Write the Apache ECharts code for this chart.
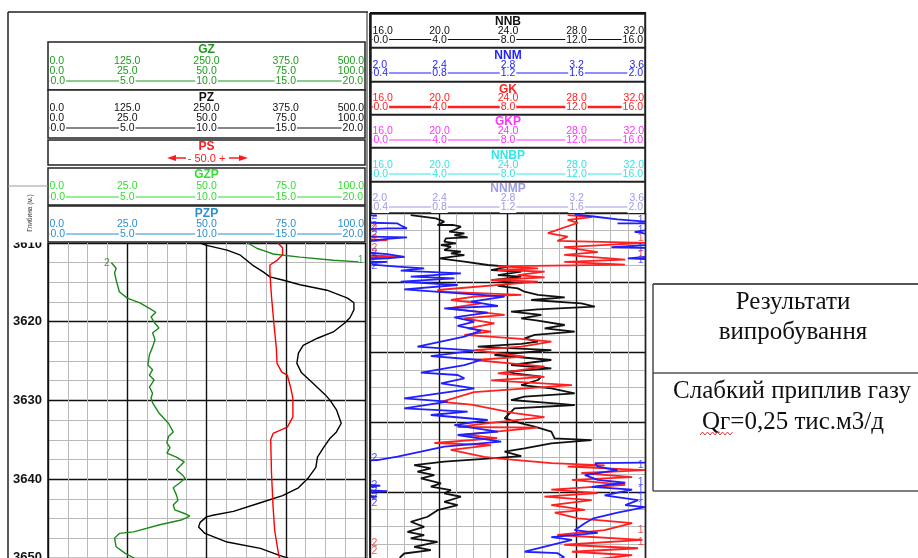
<!DOCTYPE html>
<html>
<head>
<meta charset="utf-8">
<script src="https://cdn.jsdelivr.net/npm/echarts/dist/echarts.min.js"></script>
<style>
  html, body { margin: 0; padding: 0; background: #fff; }
  #chart { width: 918px; height: 558px; }
</style>
</head>
<body>
<div id="chart"></div>
<script>
// ---------- scale captions of the header boxes ----------
const gzTicks   = [['0.0','125.0','250.0','375.0','500.0'], ['0.0','25.0','50.0','75.0','100.0'], ['0.0','5.0','10.0','15.0','20.0']];
const pzTicks   = [['0.0','125.0','250.0','375.0','500.0'], ['0.0','25.0','50.0','75.0','100.0'], ['0.0','5.0','10.0','15.0','20.0']];
const psCaption = '- 50.0 +';
const gzpTicks  = [['0.0','25.0','50.0','75.0','100.0'], ['0.0','5.0','10.0','15.0','20.0']];
const pzpTicks  = [['0.0','25.0','50.0','75.0','100.0'], ['0.0','5.0','10.0','15.0','20.0']];
const nnbTicks  = [['16.0','20.0','24.0','28.0','32.0'], ['0.0','4.0','8.0','12.0','16.0']];
const nnmTicks  = [['2.0','2.4','2.8','3.2','3.6'], ['0.4','0.8','1.2','1.6','2.0']];
const gkTicks   = [['16.0','20.0','24.0','28.0','32.0'], ['0.0','4.0','8.0','12.0','16.0']];
const gkpTicks  = [['16.0','20.0','24.0','28.0','32.0'], ['0.0','4.0','8.0','12.0','16.0']];
const nnbpTicks = [['16.0','20.0','24.0','28.0','32.0'], ['0.0','4.0','8.0','12.0','16.0']];
const nnmpTicks = [['2.0','2.4','2.8','3.2','3.6'], ['0.4','0.8','1.2','1.6','2.0']];

const depthTitle = 'Глибина (м.)';
const topDepth = 3610;
const resultTitle = ['Результати', 'випробування'];
const resultText  = ['Слабкий приплив газу', 'Qг=0,25 тис.м3/д'];

// ---------- left track curves: [value on 0..20 scale, depth m] ----------
const gzTop = [[12.6,3610.0],[13.2,3610.7],[13.8,3611.1],[14.2,3611.4],[15.9,3611.8],[18.0,3612.2],[19.6,3612.4]];
const gzMain = [[4.0,3612.5],[4.3,3613.2],[4.2,3613.8],[4.3,3614.7],[4.5,3616.2],[5.0,3617.0],[5.8,3617.6],[6.4,3618.3],
  [6.8,3618.8],[6.5,3619.4],[6.75,3620.2],[7.0,3620.8],[6.6,3621.4],[6.75,3622.3],[6.6,3623.2],[6.4,3624.2],[6.3,3625.5],
  [6.6,3626.1],[6.4,3626.8],[6.7,3627.4],[6.4,3628.3],[6.6,3629.1],[6.5,3629.7],[6.6,3630.3],[7.0,3631.6],[7.6,3632.9],
  [7.9,3634.0],[7.6,3634.6],[7.5,3635.4],[7.7,3636.0],[7.5,3636.7],[8.1,3637.2],[8.6,3637.8],[8.1,3638.8],[8.5,3639.5],
  [8.65,3639.9],[8.3,3640.5],[7.9,3641.1],[8.1,3642.0],[8.2,3642.7],[7.9,3643.3],[8.0,3643.9],[8.65,3644.4],[8.95,3644.7],
  [8.4,3645.2],[7.05,3645.8],[5.4,3646.7],[4.5,3646.9],[4.2,3647.5],[4.3,3648.6],[4.85,3649.4],[5.4,3650.0],[6.0,3650.8]];
const gzMarks = [[20,3612.2,'1'],[4.0,3612.5,'2']];
const pzCurve = [[9.6,3610.0],[10.0,3610.3],[11.3,3610.9],[12.1,3611.5],[12.9,3612.8],[13.6,3613.7],[14.0,3614.3],[14.8,3614.7],
  [15.9,3615.3],[17.6,3616.0],[18.9,3617.0],[19.3,3617.6],[19.3,3618.5],[19.05,3619.5],[18.7,3620.2],[18.0,3621.3],[17.0,3622.1],
  [16.1,3623.0],[15.8,3624.0],[15.7,3625.3],[16.0,3626.5],[16.7,3627.8],[17.5,3629.3],[17.8,3630.0],[18.2,3631.2],[18.5,3632.9],
  [18.2,3634.0],[17.8,3634.8],[17.35,3636.1],[17.0,3637.2],[16.9,3638.5],[16.4,3639.9],[15.8,3641.1],[14.8,3642.1],[13.4,3643.0],
  [11.7,3644.1],[10.4,3644.6],[10.0,3644.8],[9.6,3645.5],[9.5,3646.1],[9.9,3646.9],[11.3,3648.0],[13.4,3648.8],[14.6,3649.7],
  [15.1,3650.0],[15.6,3651.0]];
const psCurve = [[14.5,3610.0],[14.8,3610.6],[14.8,3611.5],[14.45,3612.2],[14.0,3612.8],[14.0,3613.8],[14.1,3616.8],[14.25,3620.2],
  [14.4,3623.2],[14.45,3625.3],[14.75,3626.4],[15.1,3626.8],[15.3,3628.3],[15.45,3629.7],[15.45,3630.0],[15.45,3632.1],[15.1,3633.4],
  [14.2,3634.2],[14.05,3635.0],[14.1,3639.2],[14.2,3643.5],[14.3,3646.5],[14.5,3649.0],[14.6,3650.0],[14.7,3651.0]];

// ---------- right track curves: [value on 0..16 scale, depth], null = pen lift ----------
const nnbCurve = [[2.37,3610.29],[3.83,3610.77],[4.32,3611.24],[3.93,3611.72],[4.81,3611.72],[5.29,3611.96],[4.91,3612.44],
  [4.61,3612.68],[5.49,3612.92],[4.91,3613.16],[5.68,3613.49],[4.42,3613.63],[4.32,3614.11],[5.0,3614.35],[4.13,3614.59],
  [4.71,3614.83],[4.32,3615.31],[5.29,3615.55],[4.71,3615.79],[5.49,3616.03],[4.03,3616.5],[4.13,3616.74],[5.49,3616.98],
  [6.85,3617.46],[8.02,3617.7],[7.05,3618.18],[8.8,3618.42],[7.44,3618.9],[8.8,3619.13],[7.24,3619.61],[8.41,3620.0],
  [7.44,3620.47],[8.6,3620.81],[8.99,3621.29],[9.77,3621.76],[11.33,3622.1],[9.38,3622.48],[12.3,3622.96],[13.08,3623.44],
  [9.77,3623.82],[8.21,3624.16],[9.97,3624.63],[8.8,3625.11],[9.77,3625.45],[11.33,3626.07],[10.16,3626.55],[11.91,3627.03],
  [9.58,3627.5],[8.99,3627.98],[9.77,3628.46],[8.8,3628.79],[6.27,3629.18],[10.55,3629.66],[7.24,3630.37],[10.55,3631.09],
  [8.21,3631.81],[10.55,3632.29],[8.02,3632.76],[8.41,3633.0],[9.97,3633.48],[9.77,3633.96],[8.8,3634.68],[10.55,3635.16],
  [11.91,3635.88],[8.99,3636.35],[8.21,3636.83],[10.74,3637.31],[11.91,3637.55],[8.41,3638.03],[7.83,3639.46],[8.8,3640.18],
  [9.58,3640.66],[10.55,3641.38],[10.74,3642.34],[12.89,3642.58],[10.55,3643.06],[8.99,3643.77],[7.83,3644.25],[8.8,3644.87],
  [7.05,3645.21],[4.32,3645.68],[2.57,3646.16],[3.54,3646.64],[2.76,3647.12],[3.74,3647.6],[2.96,3648.07],[4.13,3648.79],
  [3.54,3649.27],[4.71,3649.75],[4.32,3650.23],[5.29,3650.71],[4.32,3651.43],[5.1,3651.91],[3.93,3652.63],[3.35,3653.58],
  [2.37,3654.3],[3.15,3655.02],[2.18,3655.74],[3.15,3656.22],[2.37,3656.69],[3.93,3657.17],[2.57,3657.89],[3.54,3658.37],
  [1.99,3658.85],[1.79,3659.32],[1.6,3660.0]];
const nnmCurve = [
  [11.9,3610.2],[13.0,3610.5],[14.4,3610.9],[15.85,3611.2],[16,3611.2], null,
  [14.4,3611.5],[16,3611.5], null,
  [16,3612.5],[15.4,3612.7],[15.9,3612.9],[16,3613.0], null,
  [16,3614.6],[14.05,3614.9],[16,3615.0], null,
  [16,3616.3],[15.0,3616.5],[16,3616.6], null,
  [0,3610.3],[0.4,3610.4], null,
  [0,3611.4],[1.6,3611.5],[1.8,3611.8],[2.15,3612.2],[1.0,3612.2],[0,3612.3], null,
  [0,3613.4],[2.15,3613.5],[1.0,3613.7],[0,3614.0], null,
  [0,3615.7],[1.0,3615.9],[2.0,3616.3],[1.0,3616.5],[0,3616.6], null,
  [0,3617.0],[1.0,3617.0],[0,3617.2], null,
  [0.1,3617.4],[1.6,3617.7],[3.15,3617.94],[1.79,3618.27],[5.29,3618.66],[2.37,3619.13],[4.91,3619.37],[1.79,3619.85],
  [5.1,3620.33],[1.99,3620.95],[7.83,3622.0],[5.88,3622.72],[7.44,3623.34],[4.32,3623.68],[6.85,3624.3],[4.91,3624.97],
  [6.07,3625.59],[5.1,3626.21],[6.46,3626.88],[5.49,3627.74],[2.76,3629.18],[6.07,3629.75],[3.54,3630.52],[6.46,3631.09],
  [5.49,3631.81],[2.96,3632.91],[5.1,3633.24],[5.49,3633.72],[4.13,3634.44],[6.07,3635.16],[1.99,3636.59],[4.52,3637.07],
  [1.99,3638.03],[5.68,3638.5],[3.54,3638.98],[6.85,3639.7],[4.91,3640.42],[7.44,3641.37],[5.1,3641.85],[7.63,3642.81],
  [4.32,3643.53],[2.96,3644.25],[1.6,3644.96],[0.43,3645.44],[0,3645.5], null,
  [16,3645.8],[13.1,3645.9],[13.25,3646.4],[14.4,3646.9],[12.5,3647.6],[13.25,3648.3],[14.85,3648.7],[12.9,3649.3],
  [15.25,3649.7],[13.65,3650.5],[15.6,3651.2],[14.85,3651.9],[16,3652.2],[14.4,3653.0],[13.0,3653.8],[12.5,3654.5],
  [11.9,3655.5],[13.25,3655.9],[10.55,3656.5],[11.75,3656.9],[9.0,3658.6],[10.9,3658.8],[11.3,3659.4],[10.5,3660.0], null,
  [0,3649.0],[0.6,3649.1],[0,3649.3], null,
  [0,3649.8],[1.0,3649.9],[0,3650.0], null,
  [0,3650.6],[0.4,3650.7],[0,3650.8]];
const gkCurve = [
  [11.5,3610.3],[12.9,3610.6],[11.5,3611.0],[12.1,3611.4],[10.35,3612.9],[11.5,3613.4],[10.9,3614.0],[16,3614.3],[11.3,3614.9],
  [13.25,3615.6],[11.3,3616.0],[14.85,3616.7],[11.3,3617.0],[14.83,3617.4],[7.44,3617.65],[9.77,3617.94],[7.44,3618.18],
  [10.16,3618.42],[8.6,3618.9],[10.16,3619.23],[7.05,3619.61],[9.77,3619.85],[3.93,3621.05],[4.13,3621.29],[8.8,3621.76],
  [6.07,3622.0],[4.71,3622.48],[6.46,3622.96],[4.52,3623.68],[7.83,3624.63],[5.49,3625.11],[7.24,3625.83],[5.68,3626.55],
  [7.05,3627.03],[5.49,3627.5],[8.41,3627.98],[10.55,3628.46],[8.8,3629.18],[6.07,3629.66],[8.99,3630.61],[6.07,3631.09],
  [10.16,3632.05],[7.44,3633.0],[10.15,3633.5],[7.05,3634.0],
  [11.75,3634.7],[6.05,3635.7],[4.15,3637.1],[5.9,3637.5],[8.4,3638.7],[10.15,3639.3],[7.4,3640.0],[5.1,3640.7],[9.75,3640.8],
  [5.5,3641.8],[7.4,3642.3],[3.75,3643.0],[7.05,3643.3],[4.7,3644.0],[6.65,3645.0],[7.4,3645.2],[10.55,3645.9],[13.65,3646.2],
  [11.5,3646.4],[16,3646.9],[12.3,3647.3],[15.25,3647.9],[11.75,3648.3],[14.85,3649.0],[10.55,3649.7],[13.25,3650.2],
  [10.15,3650.7],[12.9,3651.2],[10.55,3651.9],[12.5,3652.6],[10.75,3653.0],[12.1,3653.8],[15.25,3654.5],[13.65,3655.5],
  [10.9,3656.2],[15.85,3656.9],[11.3,3657.6],[15.6,3658.1],[11.75,3658.6],[15.25,3659.1],[12.0,3660.0], null,
  [0,3613.8],[1.0,3613.9],[0,3614.0], null,
  [0,3616.1],[2.0,3616.3],[0,3616.4]];
const nnmMarks = [[0,3610.4,'2'],[0,3611.9,'2'],[0,3613.2,'2'],[0,3615.7,'2'],[0,3616.6,'2'],[0,3617.6,'2'],
  [0,3645.2,'2'],[0,3649.0,'2'],[0,3649.9,'2'],[0,3650.7,'2'],[0,3651.6,'2'],
  [16,3611.0,'1'],[16,3612.4,'1'],[16,3615.0,'1'],[16,3616.7,'1'],
  [16,3646.2,'1'],[16,3648.6,'1'],[16,3649.7,'1'],[16,3650.7,'1'],[16,3651.9,'1']];
const gkMarks = [[0,3612.3,'2'],[0,3613.7,'2'],[0,3615.0,'2'],[0,3657.3,'2'],[0,3658.5,'2'],
  [16,3613.6,'1'],[16,3616.0,'1'],[16,3655.5,'1'],[16,3657.2,'1']];

// ---------- colours ----------
const C = {
  gz: '#1f9a1f', pz: '#111111', ps: '#ff1a1a', gzp: '#33dd33', pzp: '#2b8fd0',
  nnb: '#111111', nnm: '#1f1fff', gk: '#ff2020', gkp: '#ff33ff', nnbp: '#33e5e5', nnmp: '#9c9ce8',
  gzCurve: '#1a8a1a', pzCurve: '#000000', psCurve: '#ff0000'
};
const SANS = '"Liberation Sans", Arial, sans-serif';
const SERIF = '"Liberation Serif", "Times New Roman", serif';

// ---------- graphic helpers ----------
const G = [];
function gRect(x, y, w, h, stroke, lw, fill) {
  G.push({ type: 'rect', z: 50, silent: true, shape: { x, y, width: w, height: h },
    style: { fill: fill || 'none', stroke: stroke || 'none', lineWidth: lw || 1 } });
}
function gLine(x1, y1, x2, y2, color, lw) {
  G.push({ type: 'line', z: 52, silent: true, shape: { x1, y1, x2, y2 }, style: { stroke: color, lineWidth: lw } });
}
function gText(x, y, text, color, font, align, extra) {
  G.push(Object.assign({ type: 'text', z: (extra && extra.z) || 54, silent: true, x, y,
    style: Object.assign({ text, fill: color, font, align: align || 'center', textAlign: align || 'center',
      verticalAlign: 'middle', textVerticalAlign: 'middle' }, (extra && extra.style) || {}) },
    extra && extra.rotation !== undefined ? { rotation: extra.rotation } : {}));
}
// header box with a title and rows of scale captions; the last row sits on the curve's pen sample
function header(x, w, top, bottom, title, color, rows, ys, penWidth) {
  gRect(x, top, w, bottom - top, '#222', 1.5, '#fff');
  gText(x + w / 2, ys[0], title, color, 'bold 12px ' + SANS);
  rows.forEach((row, r) => {
    const y = ys[r + 1];
    const last = r === rows.length - 1;
    if (last) gLine(x + 1, y, x + w - 1, y, color, penWidth || 1.2);
    row.forEach((t, i) => {
      const n = row.length - 1;
      let px = x + w * i / n, al = 'center';
      if (i === 0) { px = x + 1.5; al = 'left'; }
      if (i === n) { px = x + w - 1; al = 'right'; }
      gText(px, y + 0.5, t, color, '10.5px ' + SANS, al,
        last ? { style: { backgroundColor: '#fff', padding: [0, 1] } } : null);
    });
  });
}

// ---------- frames ----------
// top depth caption sits under the depth header cell, which hides its upper half
gText(42, 244, String(topDepth), '#111', 'bold 13px ' + SANS, 'right', { z: 20 });
gRect(9, 187, 38.5, 55.5, 'none', 0, '#fff');
gLine(8, 12, 368, 12, '#222', 1.5);
gLine(8, 12, 8, 558, '#222', 1.5);
gLine(367, 12, 367, 558, '#444', 1.2);
gLine(8, 186, 48, 186, '#999', 1);
gText(30, 213, depthTitle, '#333', '6.5px ' + SANS, 'center', { rotation: Math.PI / 2 });
gLine(370, 13, 646, 13, '#111', 2.2);
gLine(370, 13, 370, 558, '#111', 1.8);
gLine(645.5, 13, 645.5, 558, '#222', 1.4);

// ---------- left headers ----------
const LX = 48, LW = 317;
header(LX, LW, 42, 90, 'GZ', C.gz, gzTicks, [50, 61, 71, 81]);
header(LX, LW, 90, 138, 'PZ', C.pz, pzTicks, [98, 108, 118, 128]);
gRect(LX, 140, LW, 25, '#222', 1.5, '#fff');
gText(LX + LW / 2, 147, 'PS', C.ps, 'bold 12px ' + SANS);
gText(LX + LW / 2, 158.5, psCaption, C.ps, '11px ' + SANS);
gLine(174, 158, 186, 158, C.ps, 1.5);
G.push({ type: 'polygon', z: 55, silent: true, shape: { points: [[167, 158], [176, 155], [176, 161]] }, style: { fill: C.ps } });
gLine(229, 158, 241, 158, C.ps, 1.5);
G.push({ type: 'polygon', z: 55, silent: true, shape: { points: [[248, 158], [239, 155], [239, 161]] }, style: { fill: C.ps } });
header(LX, LW, 168, 205, 'GZP', C.gzp, gzpTicks, [175, 186, 197]);
header(LX, LW, 206, 242, 'PZP', C.pzp, pzpTicks, [214, 224, 234]);

// ---------- right headers ----------
const RX = 371, RW = 274;
header(RX, RW, 14, 47.5, 'NNB', C.nnb, nnbTicks, [22, 31, 39.5]);
header(RX, RW, 48, 81.5, 'NNM', C.nnm, nnmTicks, [56, 64.5, 73]);
header(RX, RW, 82, 114.5, 'GK', C.gk, gkTicks, [89.5, 98, 107], 2.6);
header(RX, RW, 115, 147.5, 'GKP', C.gkp, gkpTicks, [122, 131, 140]);
header(RX, RW, 148, 181.5, 'NNBP', C.nnbp, nnbpTicks, [156, 165, 174]);
header(RX, RW, 182, 213, 'NNMP', C.nnmp, nnmpTicks, [188.5, 198, 207]);

// ---------- test result box ----------
gLine(653, 284, 918, 284, '#555', 2);
gLine(653, 284, 653, 491, '#555', 1.6);
gLine(653, 373, 918, 373, '#555', 1.4);
gLine(653, 491, 918, 491, '#555', 1.6);
gText(793, 302, resultTitle[0], '#111', '25px ' + SERIF);
gText(793, 332, resultTitle[1], '#111', '25px ' + SERIF);
gText(792, 391, resultText[0], '#111', '25px ' + SERIF);
gText(793, 422, resultText[1], '#111', '25px ' + SERIF);
(function () {
  const pts = [];
  for (let i = 0; i <= 13; i++) pts.push([700 + i * 2.5, i % 2 ? 432 : 435]);
  G.push({ type: 'polyline', z: 55, silent: true, shape: { points: pts }, style: { stroke: '#e03a3a', lineWidth: 1, fill: 'none' } });
})();

// ---------- series ----------
function pen(arr) { return arr.map(p => p ? p : ['-', '-']); }
function lineSeries(arr, color, width, axis) {
  return { type: 'line', xAxisIndex: axis, yAxisIndex: axis, data: pen(arr), showSymbol: false, symbol: 'none',
    connectNulls: false, lineStyle: { color, width }, itemStyle: { color }, animation: false, silent: true, z: 3 };
}
function markSeries(arr, color, axis) {
  return { type: 'scatter', xAxisIndex: axis, yAxisIndex: axis, symbolSize: 1, silent: true, animation: false, z: 4,
    itemStyle: { color: 'rgba(0,0,0,0)' },
    data: arr.map(m => ({ value: [m[0], m[1]],
      label: { show: true, formatter: m[2], position: m[0] <= 0 ? 'right' : 'left', distance: 1,
        color, fontSize: 10.5, fontFamily: SANS } })) };
}

const blackSplit = { show: true, lineStyle: { color: '#111', width: 1.4 } };
const greySplit = { show: true, lineStyle: { color: '#b9b9b9', width: 1 } };

const option = {
  backgroundColor: '#fff',
  animation: false,
  grid: [
    { left: 48, top: 243, width: 317, height: 393.5, containLabel: false, outerBoundsMode: 'none' },
    { left: 370, top: 213, width: 275, height: 348.5, containLabel: false, outerBoundsMode: 'none' }
  ],
  xAxis: [
    { type: 'value', gridIndex: 0, min: 0, max: 20, interval: 5, position: 'top',
      axisLine: { show: false }, axisTick: { show: false }, axisLabel: { show: false },
      splitLine: blackSplit, minorTick: { show: false, splitNumber: 4 }, minorSplitLine: greySplit },
    { type: 'value', gridIndex: 1, min: 0, max: 16, interval: 4, position: 'top',
      axisLine: { show: false }, axisTick: { show: false }, axisLabel: { show: false },
      splitLine: blackSplit, minorTick: { show: false, splitNumber: 4 }, minorSplitLine: greySplit }
  ],
  yAxis: [
    { type: 'value', gridIndex: 0, inverse: true, min: 3610, max: 3660, interval: 10,
      axisLine: { show: true, lineStyle: { color: '#111', width: 1.5 } }, axisTick: { show: false },
      axisLabel: { show: true, margin: 6, color: '#111', fontSize: 13, fontWeight: 'bold', fontFamily: SANS,
        formatter: v => (v === topDepth ? '' : String(v)) },
      splitLine: blackSplit, minorTick: { show: false, splitNumber: 4 }, minorSplitLine: greySplit },
    { type: 'value', gridIndex: 1, inverse: true, min: 3610, max: 3660, interval: 10,
      axisLine: { show: false }, axisTick: { show: false }, axisLabel: { show: false },
      splitLine: blackSplit, minorTick: { show: false, splitNumber: 4 }, minorSplitLine: greySplit }
  ],
  series: [
    lineSeries(gzTop, C.gzCurve, 1.4, 0),
    lineSeries(gzMain, C.gzCurve, 1.4, 0),
    lineSeries(pzCurve, C.pzCurve, 1.4, 0),
    lineSeries(psCurve, C.psCurve, 1.4, 0),
    markSeries(gzMarks, C.gzCurve, 0),
    lineSeries(nnbCurve, C.nnb, 1.8, 1),
    lineSeries(gkCurve, C.gk, 1.8, 1),
    lineSeries(nnmCurve, C.nnm, 1.8, 1),
    markSeries(nnmMarks, C.nnm, 1),
    markSeries(gkMarks, C.gk, 1)
  ],
  graphic: { elements: G }
};

const chart = echarts.init(document.getElementById('chart'), null, { renderer: 'canvas' });
chart.setOption(option);
</script>
</body>
</html>
